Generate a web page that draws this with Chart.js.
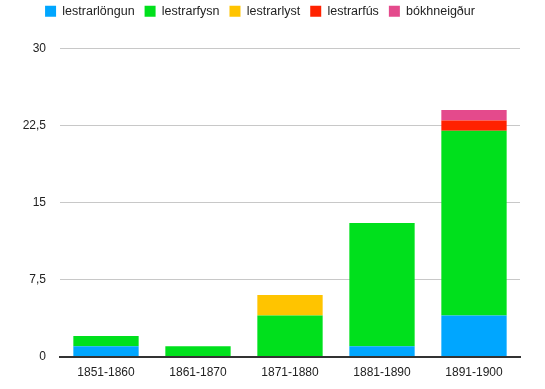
<!DOCTYPE html>
<html>
<head>
<meta charset="utf-8">
<script src="https://cdn.jsdelivr.net/npm/chart.js@4"></script>
<style>
  html, body { margin: 0; padding: 0; background: #fff; }
  #wrap { width: 545px; height: 389px; }
</style>
</head>
<body>
<div id="wrap"><canvas id="chart" width="545" height="389"></canvas></div>
<script>
// categories and series values
const decades = ['1851-1860', '1861-1870', '1871-1880', '1881-1890', '1891-1900'];
const lestrarlongun = [1, 0, 0, 1, 4];
const lestrarfysn = [1, 1, 4, 12, 18];
const lestrarlyst = [0, 0, 2, 0, 0];
const lestrarfus = [0, 0, 0, 0, 1];
const bokhneigdur = [0, 0, 0, 0, 1];
const yTicks = [0, 7.5, 15, 22.5, 30];

const seriesNames = ['lestrarlöngun', 'lestrarfysn', 'lestrarlyst', 'lestrarfús', 'bókhneigður'];
const seriesData = [lestrarlongun, lestrarfysn, lestrarlyst, lestrarfus, bokhneigdur];
const seriesColors = ['#00a6ff', '#00e01c', '#ffc400', '#ff2200', '#e44a8c'];

const canvasElem = document.getElementById('chart');

const chartData = {
  labels: decades,
  datasets: seriesNames.map((name, i) => ({
    label: name,
    data: seriesData[i],
    backgroundColor: seriesColors[i],
    borderWidth: 0,
    barPercentage: 0.71,
    categoryPercentage: 1
  }))
};

// extra space under the legend
const legendGap = {
  id: 'legendGap',
  beforeInit(chart) {
    const fit = chart.legend.fit;
    chart.legend.fit = function () {
      fit.bind(chart.legend)();
      this.height += 21;
    };
  }
};

new Chart(canvasElem, {
  type: 'bar',
  data: chartData,
  plugins: [legendGap],
  options: {
    responsive: false,
    animation: false,
    layout: { padding: { left: 0, right: 25, top: -5, bottom: 8 } },
    plugins: {
      legend: {
        position: 'top',
        labels: {
          boxWidth: 11,
          boxHeight: 11,
          padding: 10,
          color: '#222',
          font: { family: 'Liberation Sans, Arial, sans-serif', size: 12.5 }
        }
      },
      tooltip: { enabled: false }
    },
    scales: {
      x: {
        stacked: true,
        grid: { display: false },
        border: { color: '#333', width: 2 },
        ticks: {
          color: '#222',
          padding: 1,
          font: { family: 'Liberation Sans, Arial, sans-serif', size: 12 }
        }
      },
      y: {
        stacked: true,
        min: 0,
        max: 30,
        afterFit: scale => { scale.width = 60; },
        afterBuildTicks: scale => { scale.ticks = yTicks.map(v => ({ value: v })); },
        border: { display: false },
        grid: { color: '#c8c8c8', drawTicks: false },
        ticks: {
          color: '#222',
          padding: 14,
          font: { family: 'Liberation Sans, Arial, sans-serif', size: 12 },
          callback: v => String(v).replace('.', ',')
        }
      }
    }
  }
});
</script>
</body>
</html>
